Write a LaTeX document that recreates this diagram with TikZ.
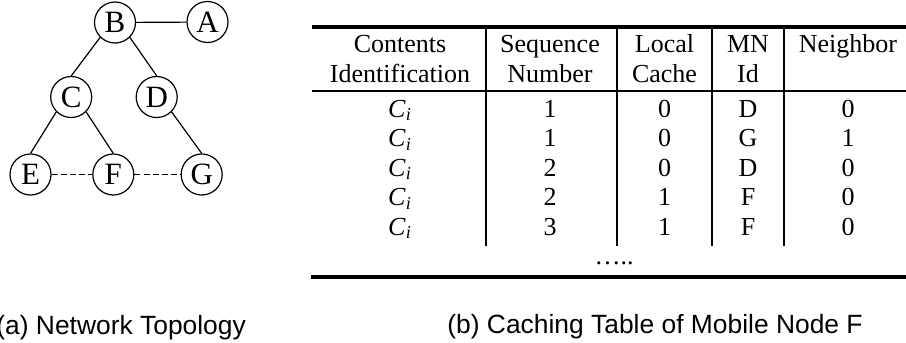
\documentclass[tikz,border=0pt]{standalone}
\usepackage{fontspec}
\setmainfont{Liberation Serif}
\newfontfamily\capfont{Liberation Sans}
\usetikzlibrary{positioning}

\begin{document}
\begin{tikzpicture}[x=0.5pt,y=-0.5pt,
    mn/.style={draw,circle,line width=0.6pt,minimum size=20.5pt,inner sep=0pt,font=\fontsize{15.5}{15.5}\selectfont},
    link/.style={line width=0.6pt},
    nbr/.style={line width=0.6pt,dash pattern=on 3pt off 1.6pt},
    cell/.style={anchor=base,inner sep=0pt,font=\fontsize{13}{13}\selectfont},
    caption/.style={anchor=base west,inner sep=0pt,font=\capfont\fontsize{13.2}{13.2}\selectfont}]
  \useasboundingbox (0,0) rectangle (906,343);
  % (a) network topology
  \node[mn] (B) at (115,22.5) {B};
  \node[mn] (A) at (207.5,22) {A};
  \node[mn] (C) at (71.2,97) {C};
  \node[mn] (D) at (156.7,97) {D};
  \node[mn] (E) at (30.5,174.5) {E};
  \node[mn] (F) at (113.3,174.5) {F};
  \node[mn] (G) at (201.7,174.5) {G};
  \draw[link] (B) -- (A);
  \draw[link] (B.south west) -- (C.north);
  \draw[link] (B.south east) -- (D.north);
  \draw[link] (C.south west) -- (E.north);
  \draw[link] (C.south east) -- (F.north);
  \draw[link] (D.south east) -- (G.north);
  \draw[nbr] (E) -- (F);
  \draw[nbr] (F) -- (G);
  % (b) caching table, header
  \node[cell] (h1a) at (400,52) {Contents};
  \node[cell] (h1b) at (400,82.5) {Identification};
  \node[cell] (h2a) at (550,52) {Sequence};
  \node[cell] (h2b) at (550,82.5) {Number};
  \node[cell] (h3a) at (664.5,52) {Local};
  \node[cell] (h3b) at (664.5,82.5) {Cache};
  \node[cell] (h4a) at (748,52) {MN};
  \node[cell] (h4b) at (748,82.5) {Id};
  \node[cell] (h5a) at (848,52) {Neighbor};
  % rows
  \node[cell] (ci1) at (400,117) {\textit{C}\textsubscript{\textit{i}}};
  \node[cell] (seq1) at (550,117) {1};
  \node[cell] (lc1) at (664.5,117) {0};
  \node[cell] (id1) at (748,117) {D};
  \node[cell] (nb1) at (848,117) {0};
  \node[cell] (ci2) at (400,146.5) {\textit{C}\textsubscript{\textit{i}}};
  \node[cell] (seq2) at (550,146.5) {1};
  \node[cell] (lc2) at (664.5,146.5) {0};
  \node[cell] (id2) at (748,146.5) {G};
  \node[cell] (nb2) at (848,146.5) {1};
  \node[cell] (ci3) at (400,176) {\textit{C}\textsubscript{\textit{i}}};
  \node[cell] (seq3) at (550,176) {2};
  \node[cell] (lc3) at (664.5,176) {0};
  \node[cell] (id3) at (748,176) {D};
  \node[cell] (nb3) at (848,176) {0};
  \node[cell] (ci4) at (400,205.5) {\textit{C}\textsubscript{\textit{i}}};
  \node[cell] (seq4) at (550,205.5) {2};
  \node[cell] (lc4) at (664.5,205.5) {1};
  \node[cell] (id4) at (748,205.5) {F};
  \node[cell] (nb4) at (848,205.5) {0};
  \node[cell] (ci5) at (400,235) {\textit{C}\textsubscript{\textit{i}}};
  \node[cell] (seq5) at (550,235) {3};
  \node[cell] (lc5) at (664.5,235) {1};
  \node[cell] (id5) at (748,235) {F};
  \node[cell] (nb5) at (848,235) {0};
  \node[cell] (more) at (614,264) {…..};
  % rules
  \draw[line width=1.75pt] (312,27) -- (906,27);
  \draw[line width=1pt] (312,90.5) -- (906,90.5);
  \draw[line width=2pt] (310.7,277) -- (906,277);
  \draw[line width=1pt] (486,27) -- (486,246);
  \draw[line width=1pt] (617,27) -- (617,246);
  \draw[line width=1pt] (712,27) -- (712,246);
  \draw[line width=1pt] (784,27) -- (784,246);
  % captions
  \node[caption] (capa) at (-4,334) {(a) Network Topology};
  \node[caption] (capb) at (447,333) {(b) Caching Table of Mobile Node F};
\end{tikzpicture}
\end{document}
